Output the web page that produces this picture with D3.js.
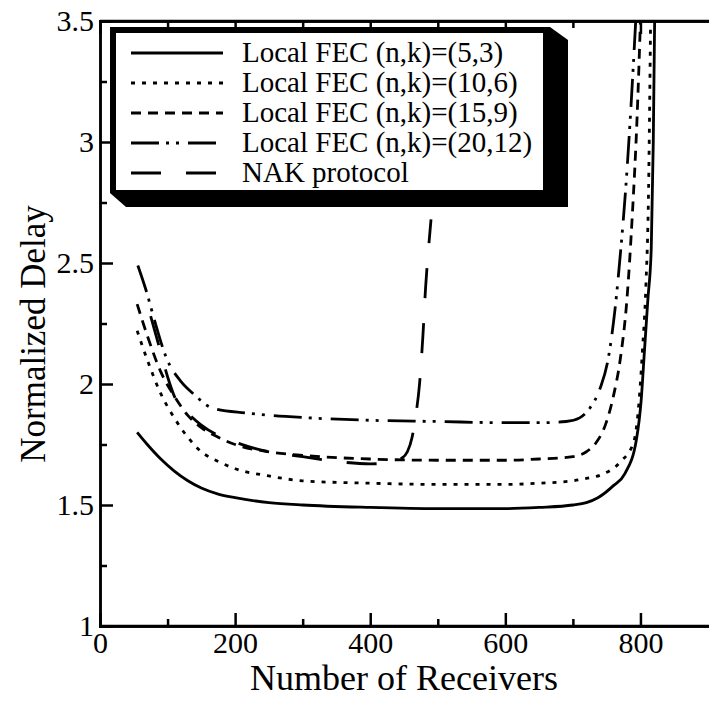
<!DOCTYPE html>
<html>
<head>
<meta charset="utf-8">
<script src="https://cdn.jsdelivr.net/npm/d3@7"></script>
<style>
body { margin: 0; background: #fff; }
text { font-family: "Liberation Serif", "Times New Roman", serif; fill: #000; }
.axis path, .axis line { stroke: #000; stroke-width: 2.5px; }
.axis text { font-size: 30px; font-family: "Liberation Serif", "Times New Roman", serif; }
</style>
</head>
<body>
<div id="chart"></div>
<script>
// data
var fec53X  = [55, 70, 90, 110, 130, 150, 175, 200, 250, 300, 400, 500, 600, 650, 700, 720, 737, 760, 777, 794, 801, 806, 811, 816, 819, 821];
var fec53Y  = [1.80, 1.75, 1.69, 1.64, 1.60, 1.57, 1.545, 1.53, 1.51, 1.50, 1.49, 1.485, 1.485, 1.49, 1.50, 1.51, 1.53, 1.58, 1.63, 1.77, 1.93, 2.14, 2.35, 2.56, 3.0, 3.5];

var fec106X = [55, 70, 90, 110, 130, 150, 175, 200, 250, 300, 400, 500, 600, 650, 700, 720, 742, 771, 790, 798, 803, 808, 812, 815];
var fec106Y = [2.22, 2.10, 1.96, 1.86, 1.78, 1.72, 1.68, 1.65, 1.62, 1.60, 1.59, 1.585, 1.585, 1.59, 1.60, 1.61, 1.625, 1.68, 1.76, 1.93, 2.14, 2.4, 2.8, 3.5];

var fec159X = [55, 70, 90, 110, 130, 150, 175, 200, 250, 300, 400, 500, 600, 650, 700, 720, 735, 748, 760, 770, 780, 788, 795, 800];
var fec159Y = [2.33, 2.20, 2.05, 1.95, 1.87, 1.82, 1.78, 1.75, 1.72, 1.705, 1.69, 1.685, 1.685, 1.69, 1.70, 1.72, 1.76, 1.83, 1.95, 2.1, 2.35, 2.7, 3.1, 3.5];

var fec2012X = [56, 69, 80, 98, 120, 138, 167, 217, 310, 400, 500, 600, 650, 690, 710, 725, 740, 752, 762, 771, 778, 785, 793];
var fec2012Y = [2.49, 2.38, 2.27, 2.11, 2.01, 1.96, 1.90, 1.88, 1.86, 1.85, 1.845, 1.84, 1.84, 1.845, 1.86, 1.90, 1.98, 2.1, 2.3, 2.56, 2.8, 3.1, 3.5];

var nakX = [75, 88, 100, 110, 130, 150, 200, 250, 300, 350, 400, 430, 445, 455, 462, 468, 473, 478, 482, 486, 490];
var nakY = [2.28, 2.15, 2.03, 1.95, 1.88, 1.83, 1.76, 1.72, 1.70, 1.68, 1.67, 1.675, 1.69, 1.72, 1.78, 1.88, 2.0, 2.2, 2.4, 2.55, 2.68];

var legendLabels = ["Local FEC (n,k)=(5,3)", "Local FEC (n,k)=(10,6)", "Local FEC (n,k)=(15,9)", "Local FEC (n,k)=(20,12)", "NAK protocol"];
var dashes = [null, "4,7", "10,7", "28,7,3,7,3,9", "30,25"];

var xMajor = [0, 200, 400, 600, 800];
var xMinor = [100, 300, 500, 700];
var yMajor = [1, 1.5, 2, 2.5, 3, 3.5];
var yMinor = [1.25, 1.75, 2.25, 2.75, 3.25];

var series = [
  {xs: fec53X, ys: fec53Y},
  {xs: fec106X, ys: fec106Y},
  {xs: fec159X, ys: fec159Y},
  {xs: fec2012X, ys: fec2012Y},
  {xs: nakX, ys: nakY}
];

var W = 709, H = 706;
var svg = d3.select("#chart").append("svg").attr("width", W).attr("height", H)
  .attr("font-family", "Liberation Serif, Times New Roman, serif");

var x = d3.scaleLinear().domain([0, 900]).range([100, 708]);
var y = d3.scaleLinear().domain([1, 3.5]).range([626, 21]);

svg.append("clipPath").attr("id", "plot")
  .append("rect").attr("x", 100).attr("y", 21).attr("width", 609).attr("height", 605);

// curves
var line = d3.line().curve(d3.curveMonotoneX)
  .x(function(d) { return x(d[0]); })
  .y(function(d) { return y(d[1]); });

svg.append("g").attr("clip-path", "url(#plot)")
  .selectAll("path").data(series).enter().append("path")
    .attr("d", function(s) { return line(s.xs.map(function(v, i) { return [v, s.ys[i]]; })); })
    .attr("fill", "none")
    .attr("stroke", "#000")
    .attr("stroke-width", 2.8)
    .attr("stroke-dasharray", function(s, i) { return dashes[i]; });

// axes, ticks pointing inward
svg.append("g").attr("class", "axis").attr("transform", "translate(0,626)")
  .call(d3.axisBottom(x).tickValues(xMajor).tickSize(-13).tickSizeOuter(0).tickPadding(6).tickFormat(d3.format("d")));
svg.append("g").attr("class", "axis").attr("transform", "translate(0,626)")
  .call(d3.axisBottom(x).tickValues(xMinor).tickSize(-7).tickSizeOuter(0).tickFormat(""));
svg.append("g").attr("class", "axis").attr("transform", "translate(0,21)")
  .call(d3.axisTop(x).tickValues(xMajor).tickSize(-13).tickSizeOuter(0).tickFormat(""));
svg.append("g").attr("class", "axis").attr("transform", "translate(0,21)")
  .call(d3.axisTop(x).tickValues(xMinor).tickSize(-7).tickSizeOuter(0).tickFormat(""));
svg.append("g").attr("class", "axis").attr("transform", "translate(100,0)")
  .call(d3.axisLeft(y).tickValues(yMajor).tickSize(-13).tickSizeOuter(0).tickPadding(6).tickFormat(d3.format("")));
svg.append("g").attr("class", "axis").attr("transform", "translate(100,0)")
  .call(d3.axisLeft(y).tickValues(yMinor).tickSize(-7).tickSizeOuter(0).tickFormat(""));
svg.selectAll(".axis path").attr("stroke-linecap", "square");
// frame lines run to the picture edge
svg.append("line").attr("x1", 100).attr("x2", 709).attr("y1", 21).attr("y2", 21).attr("stroke", "#000").attr("stroke-width", 2.5);
svg.append("line").attr("x1", 100).attr("x2", 709).attr("y1", 626).attr("y2", 626).attr("stroke", "#000").attr("stroke-width", 2.5);

// titles
svg.append("text").attr("x", 404).attr("y", 690).attr("text-anchor", "middle")
  .style("font-size", "36px").text("Number of Receivers");
svg.append("text").attr("transform", "translate(45,334) rotate(-90)").attr("text-anchor", "middle")
  .style("font-size", "35px").text("Normalized Delay");

// legend box with 3D shadow
var lg = svg.append("g");
lg.append("polygon")
  .attr("points", "110,27 550,27 568,40 568,207 126,207 110,193")
  .attr("fill", "#000");
lg.append("rect").attr("x", 116).attr("y", 33).attr("width", 427).attr("height", 157).attr("fill", "#fff");

var rows = lg.selectAll("g.row").data(legendLabels).enter().append("g")
  .attr("class", "row")
  .attr("transform", function(d, i) { return "translate(0," + (53 + i * 30) + ")"; });
rows.append("line")
  .attr("x1", 131).attr("x2", 223).attr("y1", 0).attr("y2", 0)
  .attr("stroke", "#000").attr("stroke-width", 2.8)
  .attr("stroke-dasharray", function(d, i) { return dashes[i]; });
rows.append("text").attr("x", 242).attr("y", 9)
  .style("font-size", "29px").text(function(d) { return d; });
</script>
</body>
</html>
